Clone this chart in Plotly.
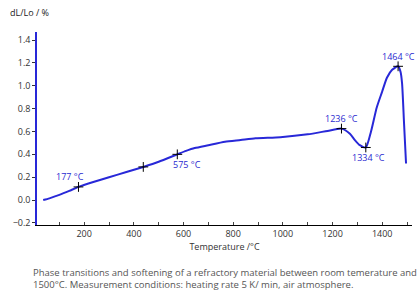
import plotly.graph_objects as go

temps = [35, 60, 100, 140, 177, 240, 300, 370, 438, 500, 575, 610, 645, 700, 767, 830, 890, 990, 1100, 1180, 1236, 1270, 1290, 1310, 1334, 1355, 1378, 1400, 1419, 1440, 1464, 1474, 1480, 1488, 1496]
dl = [0.0, 0.015, 0.045, 0.08, 0.115, 0.16, 0.2, 0.245, 0.29, 0.335, 0.40, 0.43, 0.455, 0.48, 0.51, 0.525, 0.54, 0.55, 0.575, 0.605, 0.625, 0.58, 0.525, 0.48, 0.46, 0.6, 0.81, 0.95, 1.07, 1.14, 1.17, 1.12, 1.02, 0.67, 0.32]

mark_t = [177, 438, 575, 1236, 1334, 1464]
mark_v = [0.115, 0.29, 0.40, 0.625, 0.46, 1.17]
labels = ["177 °C", "575 °C", "1236 °C", "1334 °C", "1464 °C"]
label_t = [177, 575, 1236, 1334, 1464]
label_v = [0.115, 0.40, 0.625, 0.46, 1.17]
label_pos = ["top left", "bottom right", "top center", "bottom center", "top center"]

xtick_vals = [200, 400, 600, 800, 1000, 1200, 1400]
ytick_vals = [-0.2, 0.0, 0.2, 0.4, 0.6, 0.8, 1.0, 1.2, 1.4]

blue = "#2828d8"
fig = go.Figure()
fig.add_trace(go.Scatter(x=temps, y=dl, mode="lines", line=dict(color=blue, width=2, shape="spline", smoothing=0.6),
                         hoverinfo="skip"))
fig.add_trace(go.Scatter(x=mark_t, y=mark_v, mode="markers",
                         marker=dict(symbol="cross-thin", size=7, line=dict(color="black", width=1))))

offsets = {"top left": (-8, -10), "bottom right": (10, 10), "top center": (0, -10), "bottom center": (3, 10)}
for t, v, s, p in zip(label_t, label_v, labels, label_pos):
    dx, dy = offsets[p]
    fig.add_annotation(x=t, y=v, text=s, showarrow=False, xshift=dx, yshift=-dy,
                       font=dict(family="Open Sans", size=9, color="#2a2ad0"))

fig.add_annotation(xref="paper", yref="paper", x=-0.077, y=1.057, xanchor="left", yanchor="bottom",
                   text="dL/Lo / %", showarrow=False, font=dict(family="Open Sans", size=9, color="#222"))
fig.add_annotation(xref="paper", yref="paper", x=-0.016, y=-0.2, xanchor="left", yanchor="top", align="left",
                   text="Phase transitions and softening of a refractory material between room temerature and<br>1500°C. Measurement conditions: heating rate 5 K/ min, air atmosphere.",
                   showarrow=False, font=dict(family="Open Sans", size=9.5, color="#555"))

fig.update_layout(
    width=417, height=296, margin=dict(l=37, r=5, t=32, b=71),
    paper_bgcolor="white", plot_bgcolor="white", showlegend=False,
    xaxis=dict(range=[10, 1520], tickvals=xtick_vals, showgrid=False, zeroline=False,
               showline=True, linecolor="black", linewidth=1, ticks="inside", ticklen=3,
               minor=dict(ticks="inside", dtick=100, ticklen=3, tick0=0),
               tickfont=dict(family="Open Sans", size=9, color="#333"),
               title=dict(text="Temperature /°C", font=dict(family="Open Sans", size=9, color="#333"), standoff=2)),
    yaxis=dict(range=[-0.218, 1.47], tickvals=ytick_vals, tickformat=".1f", showgrid=False, zeroline=False,
               showline=True, linecolor=blue, linewidth=1.5, ticks="outside", ticklen=3, tickcolor="#333",
               tickfont=dict(family="Open Sans", size=9, color="#333")),
)
fig.write_html("out.html", config={"displayModeBar": False},
               post_script="document.body.style.margin='0';document.body.style.overflow='hidden';")
